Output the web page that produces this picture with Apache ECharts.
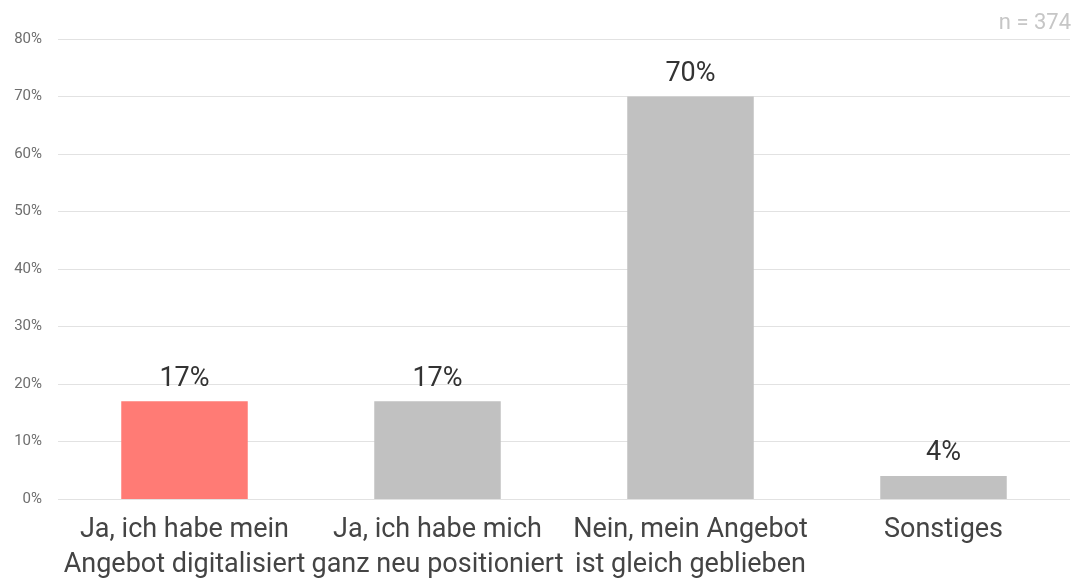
<!DOCTYPE html>
<html>
<head>
<meta charset="utf-8">
<script src="https://cdn.jsdelivr.net/npm/echarts@6/dist/echarts.min.js"></script>
<style>html,body{margin:0;padding:0;background:#fff}#c{width:1078px;height:578px}</style>
</head>
<body>
<div id="c"></div>
<script>
const categories = ['Ja, ich habe mein\nAngebot digitalisiert', 'Ja, ich habe mich\nganz neu positioniert', 'Nein, mein Angebot\nist gleich geblieben', 'Sonstiges'];
const values = [17, 17, 70, 4];
const barColors = ['#ff7b75', '#c1c1c1', '#c1c1c1', '#c1c1c1'];
const yTicks = { min: 0, max: 80, interval: 10 };
const noteText = 'n = 374';

const chart = echarts.init(document.getElementById('c'), null, { renderer: 'canvas' });
chart.setOption({
  animation: false,
  textStyle: { fontFamily: 'Roboto' },
  graphic: [{
    type: 'text', right: 7, top: 12,
    style: { text: noteText, fontFamily: 'Roboto', fontSize: 22, fill: '#c6c6c6' }
  }],
  grid: { left: 58, right: 8, top: 39, bottom: 79, containLabel: false, outerBoundsMode: 'none' },
  xAxis: {
    type: 'category', data: categories,
    axisLine: { show: false }, axisTick: { show: false },
    axisLabel: { color: '#444', fontSize: 27, lineHeight: 35, margin: 14, interval: 0, fontFamily: 'Roboto' }
  },
  yAxis: {
    type: 'value', min: yTicks.min, max: yTicks.max, interval: yTicks.interval,
    axisLine: { show: false }, axisTick: { show: false },
    axisLabel: { color: '#6e6e6e', fontSize: 15, margin: 16, formatter: v => v + '%', fontFamily: 'Roboto' },
    splitLine: { lineStyle: { color: '#e2e2e2', width: 1 } }
  },
  series: [{
    type: 'bar', barWidth: '50%',
    data: values.map((v, i) => ({ value: v, itemStyle: { color: barColors[i] } })),
    label: { show: true, position: 'top', distance: 9, color: '#333', fontSize: 27, formatter: p => p.value + '%', fontFamily: 'Roboto' }
  }]
});
</script>
</body>
</html>
